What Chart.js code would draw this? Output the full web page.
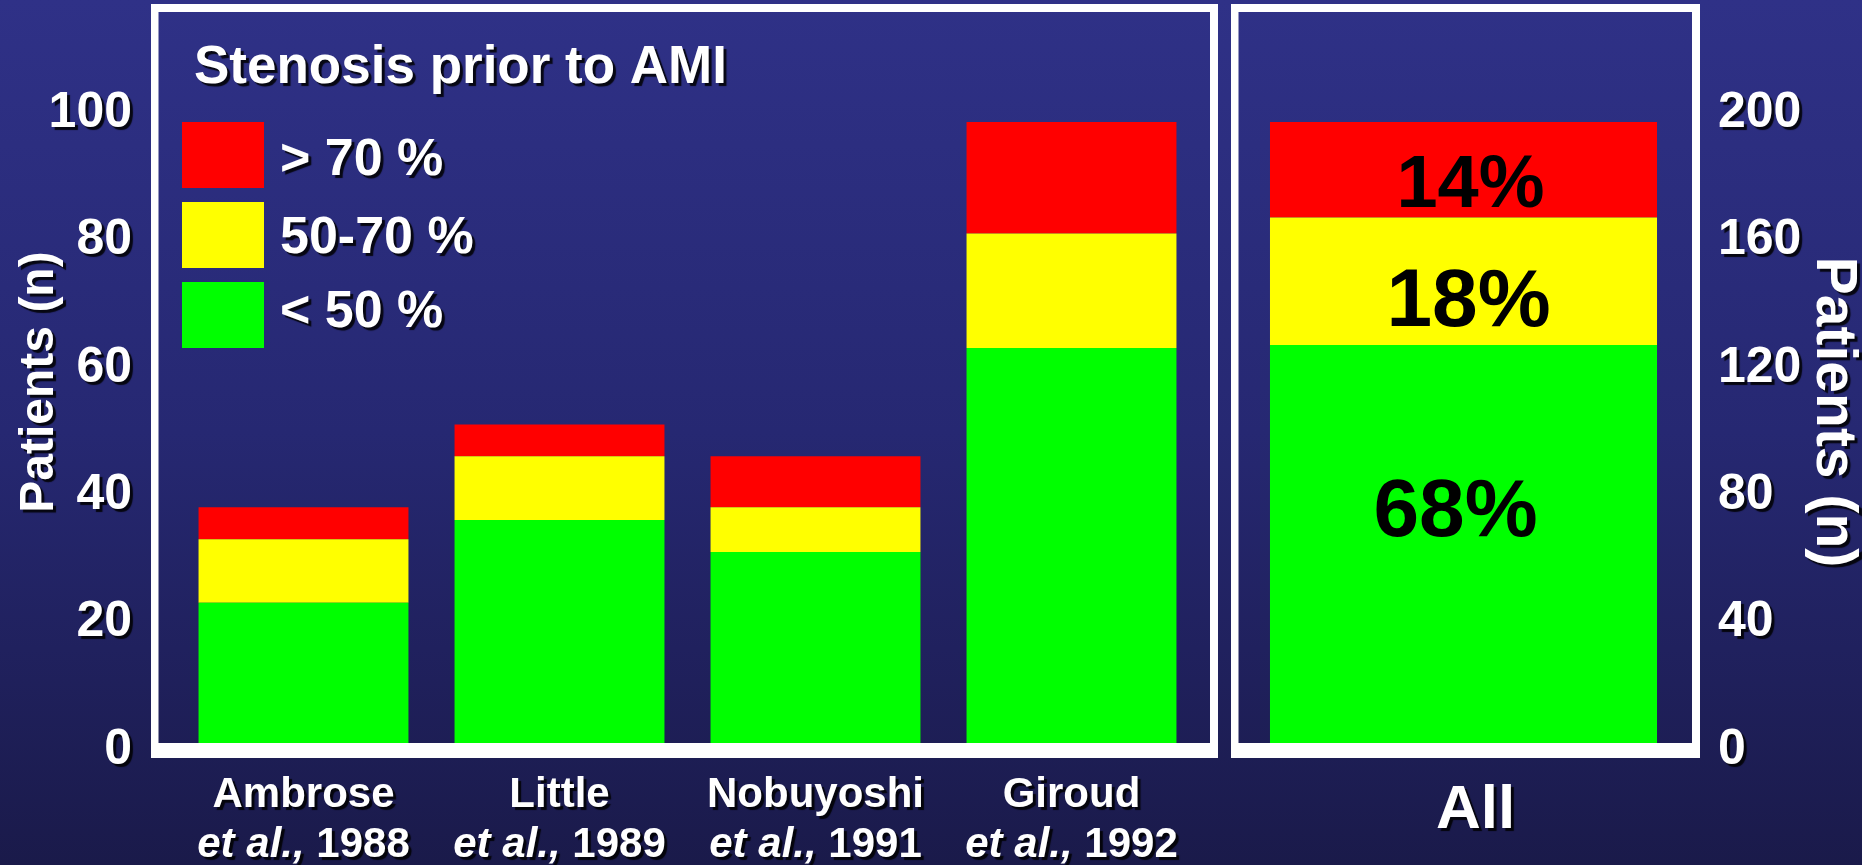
<!DOCTYPE html>
<html>
<head>
<meta charset="utf-8">
<script src="https://cdn.jsdelivr.net/npm/chart.js@4.4.1/dist/chart.umd.min.js"></script>
<style>
  html, body { margin: 0; padding: 0; }
  body {
    width: 1862px; height: 865px; overflow: hidden; position: relative;
    background: linear-gradient(to bottom, #2f3187 0%, #262872 50%, #1a1a4a 100%);
  }
  canvas { position: absolute; top: 0; }
  #studies { left: 0; }
  #all { left: 1222px; }
</style>
</head>
<body>
<canvas id="studies" width="1225" height="865"></canvas>
<canvas id="all" width="640" height="865"></canvas>
<script>
// Data
const studyNames = ["Ambrose", "Little", "Nobuyoshi", "Giroud"];
const studyYears = ["1988", "1989", "1991", "1992"];
const below50 = [22, 35, 30, 62];
const from50to70 = [10, 10, 7, 18];
const above70 = [5, 5, 8, 17.5];

const allCategory = ["All"];
const allBelow50 = [125];
const allFrom50to70 = [40];
const allAbove70 = [30];
const allShares = ["68%", "18%", "14%"];

const seriesNames = ["< 50 %", "50-70 %", "> 70 %"];
const seriesColors = ["#00ff00", "#ffff00", "#ff0000"];
const leftTickValues = [0, 20, 40, 60, 80, 100];
const rightTickValues = [0, 40, 80, 120, 160, 200];

const FONT = "'Liberation Sans', Arial, Helvetica, sans-serif";
Chart.defaults.font.family = FONT;

function setShadow(ctx) {
  ctx.shadowColor = "rgba(0,0,0,0.85)";
  ctx.shadowOffsetX = 3;
  ctx.shadowOffsetY = 3;
  ctx.shadowBlur = 1;
}

// white frame around a panel, thick bottom band is the axis line
function drawFrame(ctx, left, right, top, bottom) {
  ctx.fillStyle = "#ffffff";
  ctx.fillRect(left, top, right - left, 8);
  ctx.fillRect(left, top, 7.5, bottom - top);
  ctx.fillRect(right - 8, top, 8, bottom - top);
  ctx.fillRect(left, 743, right - left, bottom - 743);
}

// shadow on library-drawn tick labels
const tickShadow = {
  id: "tickShadow",
  beforeDraw(chart) {
    chart.ctx.save();
    setShadow(chart.ctx);
  },
  beforeDatasetsDraw(chart) {
    chart.ctx.restore();
  },
};

const tickFont = { size: 50, weight: "bold" };

function fixAxis(width) {
  return (s) => {
    s.width = width;
    s.paddingTop = 0;
    s.paddingBottom = 0;
  };
}

// Left panel: four studies
const studiesChart = new Chart(document.getElementById("studies"), {
  type: "bar",
  data: {
    labels: studyNames,
    datasets: [below50, from50to70, above70].map((d, i) => ({
      label: seriesNames[i],
      data: d,
      backgroundColor: seriesColors[i],
      borderWidth: 0,
      barPercentage: 0.82,
      categoryPercentage: 1,
    })),
  },
  options: {
    responsive: false,
    animation: false,
    devicePixelRatio: 1,
    layout: { padding: { left: 5.5, right: 25.5, top: 10.45, bottom: 122 } },
    plugins: { legend: { display: false }, tooltip: { enabled: false } },
    scales: {
      x: { stacked: true, display: false },
      y: {
        stacked: true,
        min: 0,
        max: 115,
        afterBuildTicks: (s) => { s.ticks = leftTickValues.map((v) => ({ value: v })); },
        afterFit: fixAxis(170),
        grid: { display: false, drawTicks: false },
        border: { display: false },
        ticks: { color: "#ffffff", font: tickFont, padding: 43.5, labelOffset: 7 },
      },
    },
  },
  plugins: [
    tickShadow,
    {
      id: "studiesDecor",
      beforeDatasetsDraw(chart) {
        drawFrame(chart.ctx, 151, 1218, 4, 758);
      },
      afterDraw(chart) {
        const ctx = chart.ctx;
        const xs = chart.scales.x;
        ctx.save();

        // legend title and boxes
        ctx.fillStyle = "#ffffff";
        setShadow(ctx);
        ctx.textAlign = "left";
        ctx.textBaseline = "alphabetic";
        ctx.font = `bold 53px ${FONT}`;
        ctx.fillText("Stenosis prior to AMI", 194, 83);

        const boxTops = [282, 202, 122];
        const textBases = [327, 253, 175];
        ctx.font = `bold 52px ${FONT}`;
        seriesNames.forEach((name, i) => {
          ctx.shadowColor = "transparent";
          ctx.fillStyle = seriesColors[i];
          ctx.fillRect(182, boxTops[i], 82, 66);
          setShadow(ctx);
          ctx.fillStyle = "#ffffff";
          ctx.fillText(name, 280, textBases[i]);
        });

        // category labels
        studyNames.forEach((name, i) => {
          const x = xs.getPixelForValue(i);
          ctx.textAlign = "center";
          ctx.font = `bold 42px ${FONT}`;
          ctx.fillText(name, x, 807);

          const it = "et al.,";
          const rest = " " + studyYears[i];
          ctx.font = `italic bold 42px ${FONT}`;
          const w1 = ctx.measureText(it).width;
          ctx.font = `bold 42px ${FONT}`;
          const w2 = ctx.measureText(rest).width;
          const sx = x - (w1 + w2) / 2;
          ctx.textAlign = "left";
          ctx.font = `italic bold 42px ${FONT}`;
          ctx.fillText(it, sx, 857);
          ctx.font = `bold 42px ${FONT}`;
          ctx.fillText(rest, sx + w1, 857);
        });

        // axis title
        ctx.translate(40, 382);
        ctx.rotate(-Math.PI / 2);
        ctx.textAlign = "center";
        ctx.textBaseline = "middle";
        ctx.font = `bold 48px ${FONT}`;
        ctx.fillText("Patients (n)", 0, 0);
        ctx.restore();
      },
    },
  ],
});

// Right panel: all patients
const shareFonts = [82, 82, 74];
const shareBaseFromTop = [191, 109, 85];
const shareDx = [-8, 5, 7];

const allChart = new Chart(document.getElementById("all"), {
  type: "bar",
  data: {
    labels: allCategory,
    datasets: [allBelow50, allFrom50to70, allAbove70].map((d, i) => ({
      label: seriesNames[i],
      data: d,
      backgroundColor: seriesColors[i],
      borderWidth: 0,
      barPercentage: 0.862,
      categoryPercentage: 1,
    })),
  },
  options: {
    responsive: false,
    animation: false,
    devicePixelRatio: 1,
    layout: { padding: { left: 17, right: 14, top: 10.45, bottom: 122 } },
    plugins: { legend: { display: false }, tooltip: { enabled: false } },
    scales: {
      x: { stacked: true, display: false },
      y: {
        position: "right",
        stacked: true,
        min: 0,
        max: 230,
        afterBuildTicks: (s) => { s.ticks = rightTickValues.map((v) => ({ value: v })); },
        afterFit: fixAxis(160),
        grid: { display: false, drawTicks: false },
        border: { display: false },
        ticks: { color: "#ffffff", font: tickFont, padding: 30, labelOffset: 7 },
      },
    },
  },
  plugins: [
    tickShadow,
    {
      id: "allDecor",
      beforeDatasetsDraw(chart) {
        drawFrame(chart.ctx, 9, 478, 4, 758);
      },
      afterDatasetsDraw(chart) {
        const ctx = chart.ctx;
        ctx.save();
        ctx.fillStyle = "#000000";
        ctx.textAlign = "center";
        ctx.textBaseline = "alphabetic";
        chart.data.datasets.forEach((ds, i) => {
          const bar = chart.getDatasetMeta(i).data[0];
          ctx.font = `bold ${shareFonts[i]}px ${FONT}`;
          ctx.fillText(allShares[i], bar.x + shareDx[i], bar.y + shareBaseFromTop[i]);
        });
        ctx.restore();
      },
      afterDraw(chart) {
        const ctx = chart.ctx;
        const xs = chart.scales.x;
        ctx.save();
        setShadow(ctx);
        ctx.fillStyle = "#ffffff";
        ctx.textAlign = "center";
        ctx.font = `bold 62px ${FONT}`;
        ctx.fillText(allCategory[0], xs.getPixelForValue(0) + 12, 828);

        ctx.translate(1833 - 1222, 412);
        ctx.rotate(Math.PI / 2);
        ctx.textBaseline = "middle";
        ctx.font = `bold 57px ${FONT}`;
        ctx.fillText("Patients (n)", 0, 0);
        ctx.restore();
      },
    },
  ],
});
</script>
</body>
</html>
